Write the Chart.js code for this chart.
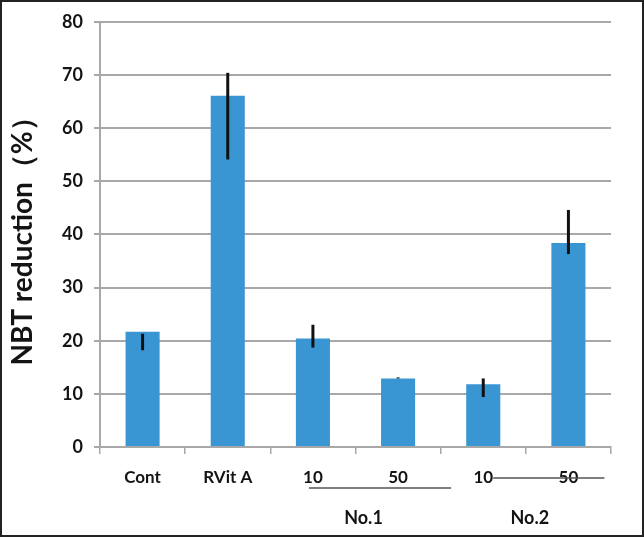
<!DOCTYPE html>
<html>
<head>
<meta charset="utf-8">
<script src="https://cdn.jsdelivr.net/npm/chart.js@4"></script>
<style>
    html, body { margin: 0; padding: 0; background: #fff; }
    #wrap { width: 644px; height: 537px; position: relative; }
</style>
</head>
<body>
<div id="wrap"><canvas id="nbtChart"></canvas></div>
<script>
// Chart data
const categories = ['Cont', 'RVit A', '10', '50', '10', '50'];
const reduction = [21.7, 66.1, 20.4, 12.9, 11.8, 38.4];
const errLow = [18.2, 54.1, 18.7, 12.9, 9.4, 36.3];
const errHigh = [21.3, 70.4, 23.0, 13.1, 12.9, 44.6];
const groupLabels = ['No.1', 'No.2'];
const groupStart = [2, 4];
const yTicks = [0, 10, 20, 30, 40, 50, 60, 70, 80];

const gridGray = '#a8a8a8';
const textDark = '#141414';
const fontFamily = 'Lato, "Liberation Sans", sans-serif';

// error bars drawn through the y scale
const errorBars = {
    id: 'errorBars',
    afterDatasetsDraw(chart) {
        const ctx = chart.ctx;
        const meta = chart.getDatasetMeta(0);
        const y = chart.scales.y;
        ctx.save();
        ctx.strokeStyle = '#111';
        ctx.lineWidth = 3;
        meta.data.forEach((bar, i) => {
            ctx.beginPath();
            ctx.moveTo(bar.x, y.getPixelForValue(errHigh[i]));
            ctx.lineTo(bar.x, y.getPixelForValue(errLow[i]));
            ctx.stroke();
        });
        ctx.restore();
    }
};

// group labels under the category ticks
const groupAxis = {
    id: 'groupAxis',
    afterDraw(chart) {
        const ctx = chart.ctx;
        const x = chart.scales.x;
        const base = chart.chartArea.bottom;
        ctx.save();
        ctx.fillStyle = textDark;
        ctx.font = 'bold 18px ' + fontFamily;
        ctx.textAlign = 'center';
        ctx.textBaseline = 'middle';
        ctx.strokeStyle = '#555';
        ctx.lineWidth = 1.5;

        // No.1 : underline below the numbers
        const a0 = x.getPixelForValue(groupStart[0]);
        const a1 = x.getPixelForValue(groupStart[0] + 1);
        ctx.beginPath();
        ctx.moveTo(a0 - 4, base + 41);
        ctx.lineTo(a1 + 53, base + 41);
        ctx.stroke();
        ctx.fillText(groupLabels[0], (a0 + a1) / 2 + 8, base + 71);

        // No.2 : line running through the numbers
        const b0 = x.getPixelForValue(groupStart[1]);
        const b1 = x.getPixelForValue(groupStart[1] + 1);
        ctx.beginPath();
        ctx.moveTo(b0 + 10, base + 31);
        ctx.lineTo(b1 + 36, base + 31);
        ctx.stroke();
        ctx.fillText(groupLabels[1], (b0 + b1) / 2 + 4, base + 71);

        // picture frame
        ctx.strokeStyle = '#222';
        ctx.lineWidth = 2;
        ctx.strokeRect(1, 1, chart.width - 2, chart.height - 2);
        ctx.restore();
    }
};

const ctx = document.getElementById('nbtChart').getContext('2d');
new Chart(ctx, {
    type: 'bar',
    data: {
        labels: categories,
        datasets: [{
            data: reduction,
            backgroundColor: '#3a95d3',
            borderWidth: 0,
            categoryPercentage: 1,
            barPercentage: 0.4
        }]
    },
    options: {
        responsive: true,
        maintainAspectRatio: false,
        animation: false,
        layout: { padding: { left: 0, right: 33, top: 20, bottom: 0 } },
        plugins: {
            legend: { display: false },
            tooltip: { enabled: false }
        },
        scales: {
            x: {
                grid: {
                    offset: true,
                    drawOnChartArea: false,
                    drawTicks: true,
                    tickLength: 7,
                    color: gridGray,
                    lineWidth: 1.5
                },
                border: { color: gridGray, width: 2 },
                ticks: {
                    color: textDark,
                    font: { family: fontFamily, size: 17, weight: 'bold' },
                    padding: 13,
                    maxRotation: 0
                },
                afterFit(scale) { scale.height = 90; }
            },
            y: {
                min: 0,
                max: 80,
                afterBuildTicks(scale) { scale.ticks = yTicks.map(v => ({ value: v })); },
                grid: {
                    color: gridGray,
                    lineWidth: 2,
                    tickLength: 6
                },
                border: { color: gridGray, width: 2 },
                ticks: {
                    color: textDark,
                    font: { family: fontFamily, size: 18, weight: 'bold' },
                    padding: 11
                },
                title: {
                    display: true,
                    text: 'NBT reduction（%）',
                    color: textDark,
                    font: { family: fontFamily, size: 28, weight: 'bold' },
                    padding: { top: 6, bottom: 0 }
                },
                afterFit(scale) { scale.width = 100; }
            }
        }
    },
    plugins: [errorBars, groupAxis]
});
</script>
</body>
</html>
